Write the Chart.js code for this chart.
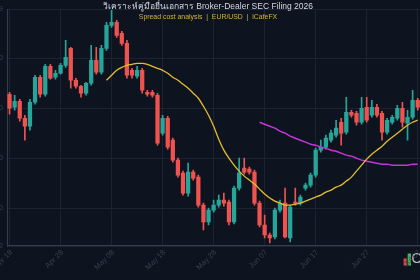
<!DOCTYPE html>
<html>
<head>
<meta charset="utf-8">
<script src="https://cdn.jsdelivr.net/npm/chart.js@4.4.1/dist/chart.umd.min.js"></script>
<style>
  html, body { margin: 0; padding: 0; width: 420px; height: 280px; overflow: hidden; background: #0e1320; }
  #wrap { position: absolute; left: -40px; top: 0; width: 500px; height: 280px; }
</style>
</head>
<body>
<div id="wrap"><canvas id="candleChart"></canvas></div>
<script>
// daily candles, EUR/USD
const startDate = '2026-04-18';
const dayCount = 88;

const opens  = [1.1714, 1.1701, 1.1707, 1.1690, 1.1682, 1.1706, 1.1731, 1.1714, 1.1742, 1.1731,
                1.1735, 1.1743, 1.1760, 1.1728, 1.1722, 1.1715, 1.1725, 1.1748, 1.1736, 1.1760,
                1.1783, 1.1786, 1.1775, 1.1765, 1.1738, 1.1732, 1.1738, 1.1716, 1.1716, 1.1713,
                1.1675, 1.1690, 1.1668, 1.1648, 1.1635, 1.1615, 1.1636, 1.1631, 1.1603, 1.1586,
                1.1598, 1.1603, 1.1608, 1.1606, 1.1586, 1.1620, 1.1640, 1.1639, 1.1636, 1.1605,
                1.1583, 1.1573, 1.1571, 1.1598, 1.1605, 1.1570, 1.1606, 1.1605, 1.1620, 1.1623,
                1.1633, 1.1658, 1.1661, 1.1668, 1.1673, 1.1686, 1.1676, 1.1696, 1.1695, 1.1686,
                1.1701, 1.1693, 1.1701, 1.1695, 1.1676, 1.1686, 1.1690, 1.1700, 1.1685, 1.1691,
                1.1708];
const highs  = [1.1716, 1.1713, 1.1709, 1.1693, 1.1709, 1.1733, 1.1733, 1.1744, 1.1744, 1.1738,
                1.1745, 1.1768, 1.1761, 1.1730, 1.1723, 1.1726, 1.1763, 1.1761, 1.1763, 1.1786,
                1.1798, 1.1788, 1.1777, 1.1768, 1.1740, 1.1742, 1.1740, 1.1718, 1.1718, 1.1715,
                1.1693, 1.1692, 1.1670, 1.1650, 1.1637, 1.1645, 1.1638, 1.1633, 1.1605, 1.1600,
                1.1608, 1.1613, 1.1615, 1.1608, 1.1622, 1.1650, 1.1650, 1.1641, 1.1638, 1.1607,
                1.1593, 1.1575, 1.1600, 1.1608, 1.1620, 1.1603, 1.1620, 1.1613, 1.1625, 1.1635,
                1.1660, 1.1668, 1.1673, 1.1678, 1.1688, 1.1690, 1.1711, 1.1698, 1.1697, 1.1711,
                1.1711, 1.1708, 1.1704, 1.1697, 1.1690, 1.1693, 1.1703, 1.1706, 1.1698, 1.1718,
                1.1710];
const lows   = [1.1694, 1.1698, 1.1687, 1.1668, 1.1678, 1.1704, 1.1711, 1.1712, 1.1729, 1.1729,
                1.1734, 1.1741, 1.1720, 1.1720, 1.1711, 1.1713, 1.1723, 1.1734, 1.1734, 1.1758,
                1.1781, 1.1771, 1.1763, 1.1730, 1.1730, 1.1730, 1.1715, 1.1712, 1.1711, 1.1663,
                1.1673, 1.1659, 1.1646, 1.1631, 1.1613, 1.1612, 1.1628, 1.1601, 1.1578, 1.1583,
                1.1596, 1.1601, 1.1602, 1.1583, 1.1584, 1.1618, 1.1634, 1.1634, 1.1603, 1.1581,
                1.1570, 1.1565, 1.1569, 1.1596, 1.1570, 1.1566, 1.1603, 1.1603, 1.1618, 1.1621,
                1.1631, 1.1656, 1.1659, 1.1666, 1.1671, 1.1663, 1.1674, 1.1691, 1.1683, 1.1684,
                1.1686, 1.1691, 1.1691, 1.1668, 1.1674, 1.1684, 1.1688, 1.1681, 1.1668, 1.1689,
                1.1698];
const closes = [1.1700, 1.1707, 1.1690, 1.1682, 1.1706, 1.1731, 1.1714, 1.1742, 1.1730, 1.1735,
                1.1743, 1.1751, 1.1728, 1.1722, 1.1715, 1.1725, 1.1748, 1.1736, 1.1760, 1.1783,
                1.1786, 1.1773, 1.1765, 1.1733, 1.1733, 1.1738, 1.1718, 1.1714, 1.1713, 1.1665,
                1.1690, 1.1661, 1.1648, 1.1633, 1.1615, 1.1636, 1.1630, 1.1603, 1.1586, 1.1598,
                1.1603, 1.1608, 1.1605, 1.1586, 1.1620, 1.1635, 1.1636, 1.1636, 1.1605, 1.1583,
                1.1573, 1.1570, 1.1598, 1.1605, 1.1571, 1.1601, 1.1605, 1.1611, 1.1623, 1.1633,
                1.1658, 1.1661, 1.1670, 1.1675, 1.1680, 1.1675, 1.1696, 1.1693, 1.1686, 1.1700,
                1.1688, 1.1701, 1.1693, 1.1676, 1.1688, 1.1691, 1.1700, 1.1686, 1.1691, 1.1708,
                1.1701];

// moving averages
const ma20Start = 19;
const ma20 = [1.1728, 1.1733, 1.1738, 1.1741, 1.1743, 1.1744, 1.1745, 1.1745, 1.1744, 1.1742,
              1.1740, 1.1738, 1.1735, 1.1731, 1.1728, 1.1724, 1.1720, 1.1715, 1.1710, 1.1702,
              1.1693, 1.1682, 1.1669, 1.1658, 1.1650, 1.1643, 1.1637, 1.1632, 1.1628, 1.1624,
              1.1619, 1.1614, 1.1610, 1.1607, 1.1605, 1.1603, 1.1603, 1.1604, 1.1605, 1.1607,
              1.1609, 1.1611, 1.1613, 1.1616, 1.1618, 1.1621, 1.1623, 1.1627, 1.1631, 1.1637,
              1.1643, 1.1649, 1.1654, 1.1658, 1.1662, 1.1667, 1.1671, 1.1675, 1.1679, 1.1683,
              1.1686, 1.1688];
const ma50Start = 49;
const ma50 = [1.1686, 1.1684, 1.1682, 1.1680, 1.1677, 1.1675, 1.1672, 1.1670, 1.1668, 1.1666,
              1.1664, 1.1663, 1.1661, 1.1660, 1.1658, 1.1657, 1.1655, 1.1653, 1.1652, 1.1650,
              1.1648, 1.1647, 1.1646, 1.1645, 1.1644, 1.1644, 1.1643, 1.1643, 1.1643, 1.1643,
              1.1644, 1.1644];

const yMin = 1.1562;
const yMax = 1.1799;
const yStep = 0.005;

const upColor = '#26a69a';
const downColor = '#ef5350';
const gridColor = '#1b2231';
const axisColor = '#363e4e';
const tickColor = '#374051';
const fontFamily = "'Liberation Sans', 'Helvetica Neue', Arial, 'Noto Sans', sans-serif";

// date labels
const monthNames = ['Jan', 'Feb', 'Mar', 'Apr', 'May', 'Jun', 'Jul', 'Aug', 'Sep', 'Oct', 'Nov', 'Dec'];
const labels = [];
const d0 = new Date(startDate + 'T00:00:00Z');
for (let i = 0; i < dayCount; i++) {
    const d = new Date(d0.getTime() + i * 86400000);
    labels.push(monthNames[d.getUTCMonth()] + ' ' + String(d.getUTCDate()).padStart(2, '0'));
}

const bodies = opens.map((o, i) => [o, closes[i]]);
const wicks = lows.map((l, i) => [l, highs[i]]);
const candleColors = opens.map((o, i) => closes[i] >= o ? upColor : downColor);
const ma20Data = labels.map((_, i) => (i >= ma20Start && i - ma20Start < ma20.length) ? ma20[i - ma20Start] : null);
const ma50Data = labels.map((_, i) => (i >= ma50Start && i - ma50Start < ma50.length) ? ma50[i - ma50Start] : null);

// little candle icon for the legend (bars sit in the right part of the image)
const legendIcon = document.createElement('canvas');
legendIcon.width = 20;
legendIcon.height = 14;
const ic = legendIcon.getContext('2d');
ic.fillStyle = '#e04a4a';
ic.fillRect(13, 6, 3, 7);
ic.fillStyle = '#4caf50';
ic.fillRect(17, 1, 3, 12);

const ctx = document.getElementById('candleChart').getContext('2d');
const chart = new Chart(ctx, {
    type: 'bar',
    data: {
        labels: labels,
        datasets: [{
            type: 'line',
            label: 'MA 20',
            data: ma20Data,
            borderColor: '#e3bd2b',
            borderWidth: 1.3,
            pointRadius: 0,
            cubicInterpolationMode: 'monotone',
            order: 0
        }, {
            type: 'line',
            label: 'MA 50',
            data: ma50Data,
            borderColor: '#c237d6',
            borderWidth: 1.5,
            pointRadius: 0,
            cubicInterpolationMode: 'monotone',
            order: 0
        }, {
            label: 'wick',
            data: wicks,
            backgroundColor: candleColors,
            barThickness: 1,
            grouped: false,
            order: 2
        }, {
            label: 'OHLC',
            data: bodies,
            backgroundColor: candleColors,
            barThickness: 3.6,
            minBarLength: 1,
            grouped: false,
            order: 1
        }]
    },
    options: {
        responsive: true,
        maintainAspectRatio: false,
        animation: false,
        events: [],
        layout: {
            padding: { top: 0, right: 4, bottom: 3.5, left: 0 }
        },
        plugins: {
            title: {
                display: true,
                text: 'วิเคราะห์คู่มือยื่นเอกสาร Broker-Dealer SEC Filing 2026',
                color: '#d5d8df',
                font: { family: fontFamily, size: 8.5, weight: 'normal' },
                padding: { top: 1.3, bottom: -2.1 }
            },
            subtitle: {
                display: true,
                text: 'Spread cost analysis  |  EUR/USD  |  iCafeFX',
                color: '#d6b43a',
                font: { family: fontFamily, size: 6.9 },
                padding: { top: 4, bottom: -12.3 }
            },
            legend: {
                position: 'bottom',
                align: 'end',
                labels: {
                    usePointStyle: true,
                    pointStyleWidth: 8,
                    color: '#b8bcc6',
                    font: { family: fontFamily, size: 14 },
                    padding: 5.5,
                    generateLabels: () => [{
                        text: 'OHLC',
                        pointStyle: legendIcon,
                        fillStyle: 'transparent',
                        strokeStyle: 'transparent',
                        lineWidth: 0,
                        fontColor: '#b8bcc6',
                        hidden: false,
                        datasetIndex: 3
                    }]
                }
            },
            tooltip: { enabled: false }
        },
        scales: {
            x: {
                offset: true,
                grid: { offset: false, color: gridColor, drawTicks: false },
                border: { color: axisColor },
                ticks: {
                    autoSkip: false,
                    minRotation: 45,
                    maxRotation: 45,
                    // mirrored so the labels are not clipped to the 1px axis box,
                    // then pushed back below the axis line
                    mirror: true,
                    padding: -8.5,
                    labelOffset: 8,
                    color: tickColor,
                    font: { family: fontFamily, size: 7.5 },
                    callback: function(value, index) {
                        return index % 10 === 0 ? this.getLabelForValue(value) : null;
                    }
                },
                afterFit: function(scale) { scale.height = 1; }
            },
            y: {
                min: yMin,
                max: yMax,
                grid: { color: gridColor, drawTicks: false },
                border: { color: axisColor },
                ticks: {
                    stepSize: yStep,
                    padding: 4,
                    color: tickColor,
                    font: { family: fontFamily, size: 7.5 },
                    callback: v => v.toFixed(4)
                },
                afterFit: function(scale) { scale.width = 47; }
            }
        }
    }
});
</script>
</body>
</html>
